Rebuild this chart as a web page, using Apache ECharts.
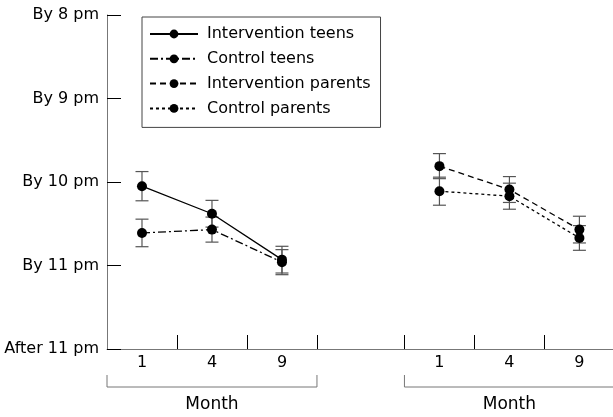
<!DOCTYPE html>
<html><head><meta charset="utf-8">
<script src="https://cdn.jsdelivr.net/npm/echarts@6/dist/echarts.min.js"></script>
<style>html,body{margin:0;padding:0;background:#fff}#c{width:613px;height:417px}</style>
</head><body><div id="c"></div>
<script>
// y scale: 0 = After 11 pm ... 4 = By 8 pm
const yLabels = ['After 11 pm', 'By 11 pm', 'By 10 pm', 'By 9 pm', 'By 8 pm'];
const months = ['1', '4', '9'];
const teenX = [0.5, 1.5, 2.5];
const parentX = [4.75, 5.75, 6.75];
const intTeens = [1.95, 1.62, 1.07];
const intTeensErr = [0.175, 0.16, 0.16];
const ctlTeens = [1.39, 1.43, 1.04];
const ctlTeensErr = [0.165, 0.15, 0.15];
const intParents = [2.19, 1.91, 1.43];
const intParentsErr = [0.15, 0.155, 0.16];
const ctlParents = [1.89, 1.83, 1.33];
const ctlParentsErr = [0.168, 0.156, 0.148];
const groupTicks = [1, 2, 3, 4.25, 5.25, 6.25];
const groupSpans = [[0, 3], [4.25, 7.25]];
const groupTitle = 'Month';
const seriesNames = ['Intervention teens', 'Control teens', 'Intervention parents', 'Control parents'];

const FONT = 'DejaVu Sans';
const chart = echarts.init(document.getElementById('c'), null, {renderer: 'canvas'});

function pairs(xs, ys) { return xs.map((x, i) => [x, ys[i]]); }
function triples(xs, ys, es) { return xs.map((x, i) => [x, ys[i], es[i]]); }

function errRender(params, api) {
  const x = api.value(0), y = api.value(1), e = api.value(2);
  const hi = api.coord([x, y + e]), lo = api.coord([x, y - e]);
  const hw = 6.5;
  const style = {stroke: '#555', lineWidth: 1.2};
  return {type: 'group', children: [
    {type: 'line', shape: {x1: hi[0], y1: hi[1], x2: lo[0], y2: lo[1]}, style: style},
    {type: 'line', shape: {x1: hi[0] - hw, y1: hi[1], x2: hi[0] + hw, y2: hi[1]}, style: style},
    {type: 'line', shape: {x1: lo[0] - hw, y1: lo[1], x2: lo[0] + hw, y2: lo[1]}, style: style}
  ]};
}

function lineSeries(name, xs, ys, dash) {
  return {
    name: name, type: 'line', data: pairs(xs, ys), symbol: 'circle', symbolSize: 10,
    itemStyle: {color: '#000'}, lineStyle: {color: '#000', width: 1.3, type: dash},
    z: 3, animation: false
  };
}
function errSeries(xs, ys, es) {
  return {type: 'custom', data: triples(xs, ys, es), renderItem: errRender, z: 2, animation: false, silent: true};
}

const option = {
  animation: false,
  grid: {left: 107, right: 0, top: 15, bottom: 68, containLabel: false},
  xAxis: {
    type: 'value', min: 0, max: 7.23,
    axisLine: {lineStyle: {color: '#777', width: 1}},
    axisTick: {show: true, inside: true, length: 14, lineStyle: {color: '#000', width: 1}, customValues: groupTicks},
    axisLabel: {customValues: teenX.concat(parentX), margin: 6, color: '#000', fontFamily: FONT, fontSize: 16,
      formatter: function (v) {
        let i = teenX.indexOf(v); if (i < 0) i = parentX.indexOf(v);
        return i >= 0 ? months[i] : '';
      }},
    splitLine: {show: false}
  },
  yAxis: {
    type: 'value', min: 0, max: 4, interval: 1,
    axisLine: {show: true, lineStyle: {color: '#777', width: 1}},
    axisTick: {show: true, inside: true, length: 14, lineStyle: {color: '#000', width: 1}},
    axisLabel: {margin: 8, color: '#000', fontFamily: FONT, fontSize: 16, formatter: function (v) { return yLabels[v] || ''; }},
    splitLine: {show: false}
  },
  legend: {
    orient: 'vertical', left: 142, top: 17, itemWidth: 48, itemHeight: 11, itemGap: 8.8,
    borderColor: '#444', borderWidth: 1, borderRadius: 0, padding: [9, 10, 11, 7],
    textStyle: {fontFamily: FONT, fontSize: 16, color: '#000', lineHeight: 14, padding: [0, 0, 0, 4]},
    data: seriesNames, selectedMode: false
  },
  series: [
    errSeries(teenX, intTeens, intTeensErr),
    errSeries(teenX, ctlTeens, ctlTeensErr),
    errSeries(parentX, intParents, intParentsErr),
    errSeries(parentX, ctlParents, ctlParentsErr),
    lineSeries(seriesNames[0], teenX, intTeens, 'solid'),
    lineSeries(seriesNames[1], teenX, ctlTeens, [8, 3, 2, 3]),
    lineSeries(seriesNames[2], parentX, intParents, [6, 4]),
    lineSeries(seriesNames[3], parentX, ctlParents, [3, 3])
  ]
};
chart.setOption(option);

const y0 = chart.convertToPixel({yAxisIndex: 0}, 0);
const gfx = [];
groupSpans.forEach(function (s) {
  const xa = chart.convertToPixel({xAxisIndex: 0}, s[0]);
  const xb = chart.convertToPixel({xAxisIndex: 0}, s[1]);
  gfx.push({type: 'polyline', shape: {points: [[xa, y0 + 26], [xa, y0 + 38], [xb, y0 + 38], [xb, y0 + 26]]},
    style: {stroke: '#777', lineWidth: 1, fill: null}});
  gfx.push({type: 'text', x: (xa + xb) / 2, y: y0 + 56,
    style: {text: groupTitle, fontFamily: FONT, fontSize: 17, fill: '#000', align: 'center', verticalAlign: 'middle'}});
});
chart.setOption({graphic: gfx});
</script>
</body></html>
